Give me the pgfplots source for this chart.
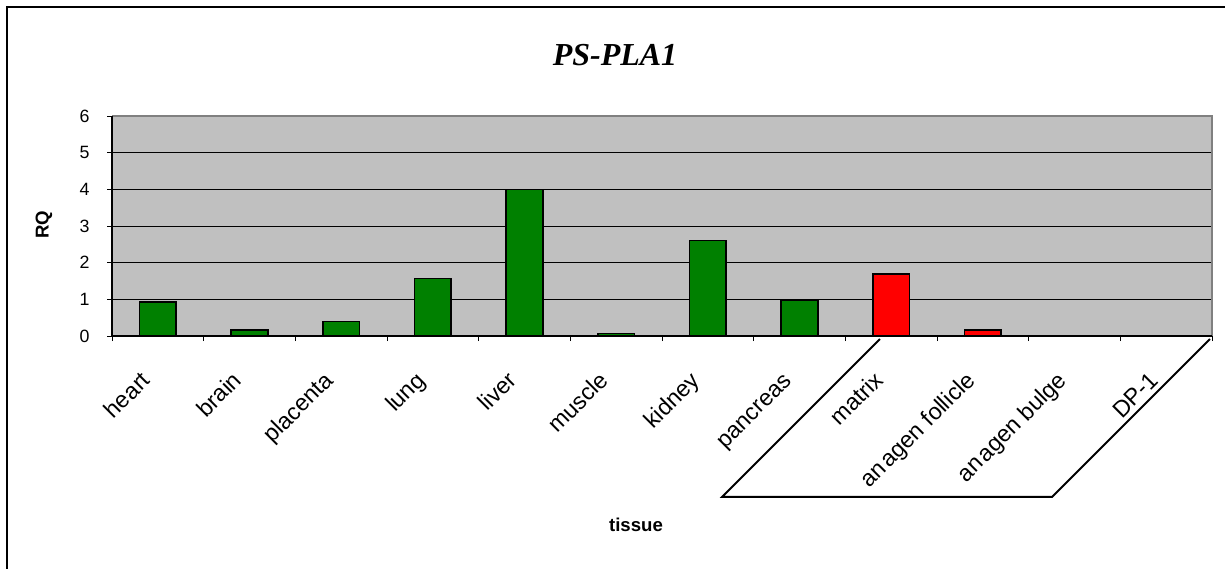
\documentclass[border=0pt]{standalone}
\usepackage{fontspec}
\setmainfont{Liberation Sans}
\newfontfamily\titlefont{Liberation Serif}
\usepackage{pgfplots}
\pgfplotsset{compat=1.18}
\definecolor{plotgray}{HTML}{C0C0C0}
\definecolor{bargreen}{HTML}{008000}
\definecolor{barred}{HTML}{FF0000}
\begin{document}
\begin{tikzpicture}
\path[use as bounding box] (-56pt,-116pt) rectangle (556.5pt,168pt);
\draw[line width=1pt] (-52.5pt,-120pt) -- (-52.5pt,164.5pt) -- (560pt,164.5pt);
\begin{axis}[
  at={(0,0)}, anchor=south west,
  scale only axis, width=550pt, height=110pt,
  xmin=-0.5, xmax=11.5, ymin=0, ymax=6,
  axis background/.style={fill=plotgray},
  axis line style={draw=none},
  clip=false,
  ybar, bar width=18.3pt, bar shift=0pt,
  xtick={0,1,2,3,4,5,6,7,8,9,10,11},
  xticklabels={heart,brain,placenta,lung,liver,muscle,kidney,pancreas,matrix,an\kern1.2pt agen follicle,an\kern1.2pt agen bulge,DP-1},
  minor xtick={-0.5,0.5,...,11.5},
  major x tick style={draw=none},
  xticklabel style={inner sep=0pt, anchor=base east, xshift=-3.2pt, yshift=-20.3pt, rotate=45, font=\fontsize{11.6}{13}\selectfont},
  ytick={0,1,2,3,4,5,6},
  yticklabel style={inner sep=0pt, xshift=-8.5pt, font=\fontsize{8.9}{10}\selectfont},
  /pgf/number format/assume math mode=true,
  xtick pos=left, ytick pos=left,
  tick align=outside, major tick length=2.5pt, minor tick length=2.5pt,
  tick style={black, line width=0.5pt},
  ymajorgrids, major grid style={black, line width=0.5pt},
]
\addplot[fill=bargreen, draw=black, line width=0.8pt] coordinates {
  (0,0.92) (1,0.17) (2,0.40) (3,1.57) (4,4.0) (5,0.07) (6,2.6) (7,0.98)};
\addplot[fill=barred, draw=black, line width=0.8pt] coordinates {
  (8,1.69) (9,0.16)};
\draw[gray, line width=0.6pt] (rel axis cs:0,1) -- (rel axis cs:1,1) -- (rel axis cs:1,0);
\draw[black, line width=0.6pt] (rel axis cs:0,1) -- (rel axis cs:0,0) -- (rel axis cs:1,0);
\draw[black, line width=1pt] (axis cs:7.878,-0.082) -- (axis cs:6.154,-4.39) -- (axis cs:9.754,-4.39) -- (axis cs:11.478,-0.082);
\end{axis}
\node[anchor=base, font=\titlefont\fontsize{16}{18}\selectfont\bfseries\itshape] at (251.5pt,135pt) {PS-PLA1};
\node[anchor=base, font=\fontsize{9.3}{11}\selectfont\bfseries] at (262pt,-97.5pt) {tissue};
\node[rotate=90, font=\fontsize{9.3}{11}\selectfont\bfseries] at (-34pt,55.5pt) {RQ};
\end{tikzpicture}
\end{document}
